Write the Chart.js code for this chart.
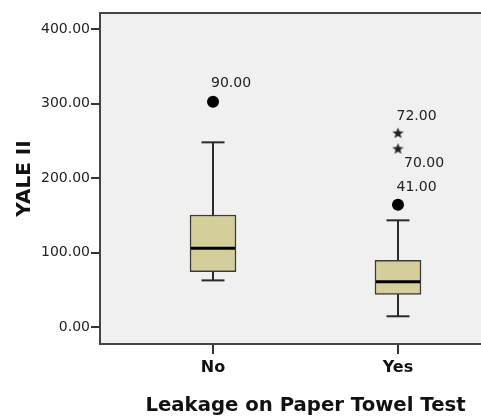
<!DOCTYPE html>
<html>
<head>
<meta charset="utf-8">
<script src="https://cdn.jsdelivr.net/npm/chart.js@4/dist/chart.umd.min.js"></script>
<style>
  html, body { margin: 0; padding: 0; background: #fff; overflow: hidden; width: 481px; height: 419px; }
  #wrap { width: 512px; height: 419px; }
</style>
</head>
<body>
<div id="wrap"><canvas id="cnv"></canvas></div>
<script>
// box plot values (YALE II by leakage group)
const categories = ['No', 'Yes']
const whiskerLow = [62.6, 14.4]
const q1 = [74.2, 43.9]
const median = [105.6, 60.8]
const q3 = [150.3, 89.5]
const whiskerHigh = [247.9, 143.2]

// outliers (circles) and extremes (stars), with case labels
const outlierCats = [0, 1]
const outlierValues = [302.4, 164.2]
const outlierIds = ['90.00', '41.00']
const extremeCats = [1, 1]
const extremeValues = [260, 238.9]
const extremeIds = ['72.00', '70.00']

const yTicks = [0, 100, 200, 300, 400]

// label offsets relative to the mark (style only)
const outlierLabelOffsets = [[-2, -18], [-1.5, -17]]
const extremeLabelOffsets = [[-1.5, -17], [6, 14]]

const FONT = 'DejaVu Sans'
const boxFill = '#d4cf9a'
const lineCol = '#2a2a2a'

// little filled star used for extreme values
const star = document.createElement('canvas')
star.width = 13
star.height = 13
;(function () {
  const c = star.getContext('2d')
  c.fillStyle = '#222'
  c.beginPath()
  for (let i = 0; i < 10; i++) {
    const r = i % 2 === 0 ? 6 : 2.5
    const a = -Math.PI / 2 + i * Math.PI / 5
    const px = 6.5 + r * Math.cos(a)
    const py = 6.5 + r * Math.sin(a)
    if (i === 0) c.moveTo(px, py); else c.lineTo(px, py)
  }
  c.closePath()
  c.fill()
})()

const catX = i => i + 1

const datasets = []

// whisker stems, drawn behind the boxes
categories.forEach((c, i) => {
  datasets.push({
    type: 'line',
    data: [{ x: catX(i), y: whiskerLow[i] }, { x: catX(i), y: whiskerHigh[i] }],
    borderColor: lineCol,
    borderWidth: 2,
    pointRadius: 0,
    order: 5
  })
})

// boxes
datasets.push({
  type: 'bar',
  data: categories.map((c, i) => ({ x: catX(i), y: [q1[i], q3[i]] })),
  backgroundColor: boxFill,
  borderColor: '#3a3a3a',
  borderWidth: 1.5,
  borderSkipped: false,
  barThickness: 46,
  order: 4
})

// whisker caps
datasets.push({
  type: 'scatter',
  data: categories.flatMap((c, i) => [{ x: catX(i), y: whiskerLow[i] }, { x: catX(i), y: whiskerHigh[i] }]),
  pointStyle: 'line',
  radius: 11.5,
  borderColor: lineCol,
  borderWidth: 2,
  order: 3
})

// medians
datasets.push({
  type: 'scatter',
  data: categories.map((c, i) => ({ x: catX(i), y: median[i] })),
  pointStyle: 'line',
  radius: 22,
  borderColor: '#000',
  borderWidth: 3,
  order: 2
})

// outliers
datasets.push({
  type: 'scatter',
  data: outlierCats.map((c, i) => ({ x: catX(c), y: outlierValues[i] })),
  pointStyle: 'circle',
  radius: 6,
  backgroundColor: '#000',
  borderColor: '#000',
  borderWidth: 0,
  order: 1
})

// extremes
datasets.push({
  type: 'scatter',
  data: extremeCats.map((c, i) => ({ x: catX(c), y: extremeValues[i] })),
  pointStyle: star,
  order: 1
})

const plotFrame = {
  id: 'plotFrame',
  beforeDraw (chart) {
    const { ctx, chartArea: a } = chart
    ctx.save()
    ctx.fillStyle = '#f0f0f0'
    ctx.fillRect(a.left, a.top, a.right - a.left, a.bottom - a.top)
    ctx.restore()
  },
  afterDraw (chart) {
    const { ctx, chartArea: a } = chart
    ctx.save()
    ctx.strokeStyle = '#444'
    ctx.lineWidth = 2
    ctx.strokeRect(a.left, a.top, a.right - a.left, a.bottom - a.top)
    ctx.restore()
  }
}

const caseLabels = {
  id: 'caseLabels',
  afterDatasetsDraw (chart) {
    const { ctx, scales } = chart
    ctx.save()
    ctx.font = '14px "' + FONT + '"'
    ctx.fillStyle = '#222'
    ctx.textBaseline = 'middle'
    ctx.textAlign = 'left'
    const put = (cat, v, txt, off) => {
      const x = scales.x.getPixelForValue(catX(cat))
      const y = scales.y.getPixelForValue(v)
      ctx.fillText(txt, x + off[0], y + off[1])
    }
    outlierCats.forEach((c, i) => put(c, outlierValues[i], outlierIds[i], outlierLabelOffsets[i]))
    extremeCats.forEach((c, i) => put(c, extremeValues[i], extremeIds[i], extremeLabelOffsets[i]))
    ctx.restore()
  }
}

new Chart(document.getElementById('cnv'), {
  type: 'bar',
  data: { datasets },
  plugins: [plotFrame, caseLabels],
  options: {
    responsive: true,
    maintainAspectRatio: false,
    animation: false,
    events: [],
    layout: { autoPadding: false, padding: { top: 13, right: 1, left: 0, bottom: 0 } },
    plugins: { legend: { display: false }, tooltip: { enabled: false } },
    scales: {
      x: {
        type: 'linear',
        min: 0.389,
        max: 2.611,
        offset: false,
        afterBuildTicks: axis => { axis.ticks = categories.map((c, i) => ({ value: catX(i) })) },
        afterFit: scale => {
          scale.height = 75
          scale.paddingLeft = 0
          scale.paddingRight = 0
        },
        border: { display: false },
        grid: { display: true, offset: false, drawOnChartArea: false, drawTicks: true, tickLength: 10, color: '#333', lineWidth: 2 },
        ticks: {
          padding: 4,
          color: '#111',
          font: { family: FONT, size: 16, weight: 'bold' },
          callback: v => categories[v - 1]
        },
        title: {
          display: true,
          text: 'Leakage on Paper Towel Test',
          color: '#111',
          font: { family: FONT, size: 19.7, weight: 'bold' },
          padding: { top: 0, bottom: 1 }
        }
      },
      y: {
        type: 'linear',
        min: -22.8,
        max: 421.5,
        afterBuildTicks: axis => { axis.ticks = yTicks.map(v => ({ value: v })) },
        afterFit: scale => {
          scale.width = 100
          scale.paddingTop = 0
          scale.paddingBottom = 0
        },
        border: { display: false },
        grid: { display: true, drawOnChartArea: false, drawTicks: true, tickLength: 9, color: '#333', lineWidth: 2 },
        ticks: {
          padding: 1,
          color: '#222',
          font: { family: FONT, size: 14 },
          callback: v => v.toFixed(2)
        },
        title: {
          display: true,
          text: 'YALE II',
          color: '#111',
          font: { family: FONT, size: 20, weight: 'bold' },
          padding: { top: 13, bottom: 0 }
        }
      }
    }
  }
})
</script>
</body>
</html>
